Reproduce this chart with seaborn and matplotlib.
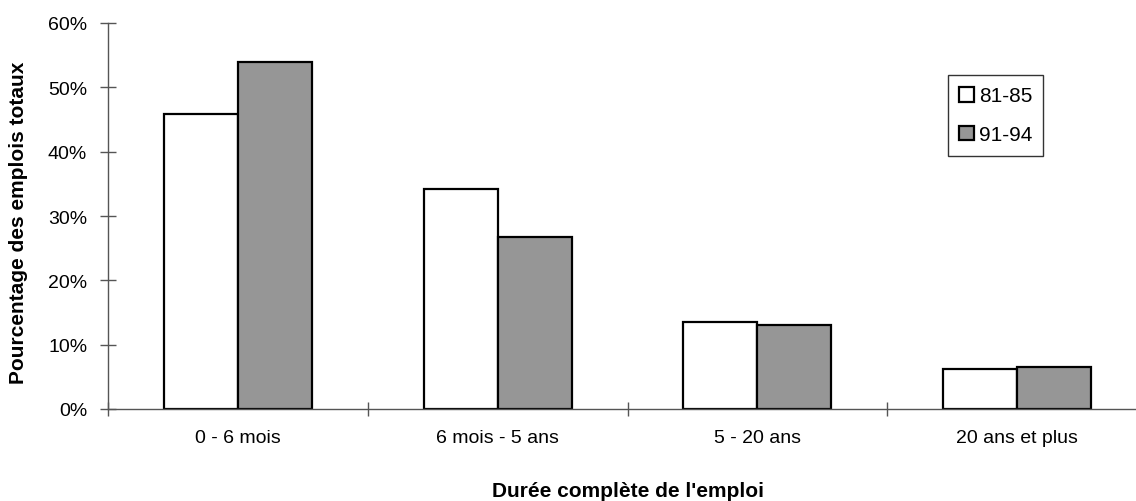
import seaborn as sns
import matplotlib.pyplot as plt
import pandas

# Values (share of total jobs)
categories = ["0 - 6 mois", "6 mois - 5 ans", "5 - 20 ans", "20 ans et plus"]
periods = ["81-85", "91-94"]
values_81_85 = [0.459, 0.342, 0.136, 0.062]
values_91_94 = [0.539, 0.267, 0.131, 0.065]
y_ticks = [0, 0.1, 0.2, 0.3, 0.4, 0.5, 0.6]
y_tick_labels = ["0%", "10%", "20%", "30%", "40%", "50%", "60%"]

sns.set_style("white", {"text.color": "black", "xtick.color": "#555555",
                        "ytick.color": "#555555", "axes.labelcolor": "black"})
plt.rcParams["font.family"] = ["Liberation Sans", "DejaVu Sans"]

df = pandas.DataFrame({
    "categorie": categories * 2,
    "periode": [periods[0]] * 4 + [periods[1]] * 4,
    "valeur": values_81_85 + values_91_94,
})

W, H = 1136, 502
fig = plt.figure(figsize=(W / 100, H / 100), dpi=100)
ax = fig.add_axes([108 / W, (H - 410) / H, 1039 / W, 386 / H])

sns.barplot(
    data=df, x="categorie", y="valeur", hue="periode",
    palette=["white", "#969696"], edgecolor="black", linewidth=1.6,
    width=0.569, ax=ax, legend=False,
)

ax.set_xlim(-0.5, 3.5)
ax.set_ylim(0, 0.6)
ax.set_yticks(y_ticks)
ax.set_yticklabels(y_tick_labels, fontsize=14, color="black")
# category separators as ticks, labels as text centred on the groups
ax.set_xticks([-0.5, 0.5, 1.5, 2.5])
ax.set_xticklabels([])
for i, lab in enumerate(categories):
    ax.text(i, -0.045, lab, ha="center", va="center", fontsize=14,
            color="black", transform=ax.transData)

for side in ["top", "right"]:
    ax.spines[side].set_visible(False)
for side in ["left", "bottom"]:
    ax.spines[side].set_color("#555555")
    ax.spines[side].set_linewidth(1.0)
ax.tick_params(axis="y", left=True, direction="inout", length=12, width=1,
               color="#555555", pad=9)
ax.tick_params(axis="x", bottom=True, direction="inout", length=10, width=1,
               color="#555555")

ax.set_xlabel("")
ax.set_ylabel("")
fig.text(19 / W, 1 - 223 / H, "Pourcentage des emplois totaux", rotation=90,
         ha="center", va="center", fontsize=15, fontweight="bold")
fig.text(628 / W, 1 - 492 / H, "Durée complète de l'emploi",
         ha="center", va="center", fontsize=15, fontweight="bold")

handles = [ax.patches[0], ax.patches[4]]
leg = fig.legend(
    handles, periods, loc="upper left",
    bbox_to_anchor=(948 / W, 1 - 76 / H), fontsize=15,
    frameon=True, fancybox=False, edgecolor="black",
    handlelength=0.72, handleheight=0.72, handletextpad=0.2,
    labelspacing=0.95, borderpad=0.55, borderaxespad=0,
)
leg.get_frame().set_linewidth(1.0)

fig.savefig("out.png", dpi=100)
